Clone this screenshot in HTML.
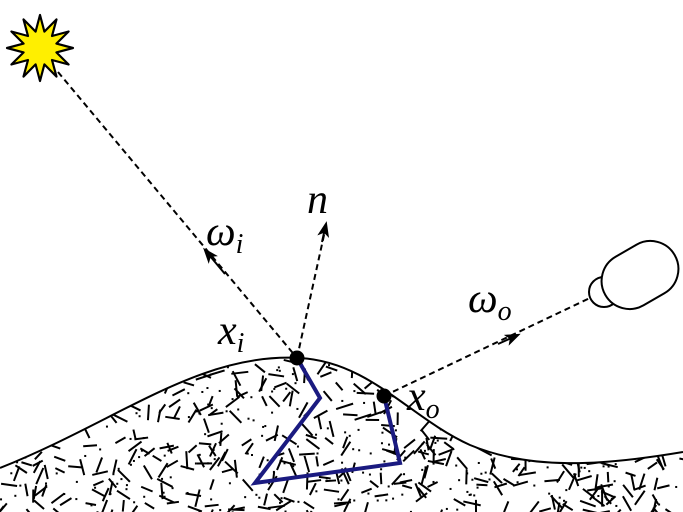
<!DOCTYPE html>
<html><head><style>
html,body{margin:0;padding:0;background:#fff;width:683px;height:512px;overflow:hidden}
svg{display:block}
text{font-family:"Liberation Serif",serif;font-style:italic}
</style></head><body>
<svg id="s" width="683" height="512" viewBox="0 0 683 512" xmlns="http://www.w3.org/2000/svg">
<defs>
<clipPath id="gc"><path d="M0,468 C120,420 200,352 300,358 C370,362 410,418 470,445 C530,470 600,466 683,452 L683,512 L0,512 Z"/></clipPath>
<marker id="ar" markerWidth="16" markerHeight="12" refX="13" refY="6" orient="auto" markerUnits="userSpaceOnUse"><path d="M0,0 L16,6 L0,12 L4,6 Z" fill="#000"/></marker>
</defs>
<g id="tex" clip-path="url(#gc)" stroke="#000" stroke-width="2"></g>
<path d="M0,468 C120,420 200,352 300,358 C370,362 410,418 470,445 C530,470 600,466 683,452" fill="none" stroke="#000" stroke-width="2"/>
<polygon id="star" fill="#ffef00" stroke="#000" stroke-width="2.2" stroke-linejoin="round"/>
<g stroke="#000" stroke-width="2" stroke-dasharray="6,4" fill="none">
<line x1="58" y1="72" x2="297" y2="358"/>
<line x1="297" y1="358" x2="326" y2="226"/>
<line x1="384" y1="396" x2="592" y2="297"/>
</g>
<path d="M225,274 L205,250" stroke="#000" stroke-width="2" marker-end="url(#ar)"/>
<path d="M322,242 L326,224" stroke="#000" stroke-width="2" marker-end="url(#ar)"/>
<path d="M498,344 L518,335" stroke="#000" stroke-width="2" marker-end="url(#ar)"/>
<polyline points="297,358 320,398 255,483 400,463 384,396" fill="none" stroke="#1a1a80" stroke-width="4" stroke-linejoin="miter"/>
<circle cx="297" cy="358" r="7.5" fill="#000"/>
<circle cx="384" cy="396" r="7.5" fill="#000"/>
<circle cx="604" cy="292" r="15" fill="#fff" stroke="#000" stroke-width="2"/>
<rect x="600" y="247" width="80" height="56" rx="28" ry="28" transform="rotate(-30 640 275)" fill="#fff" stroke="#000" stroke-width="2"/>
<text x="206" y="245" font-size="42">ω<tspan font-size="28" dy="8">i</tspan></text>
<text x="307" y="213" font-size="42">n</text>
<text x="218" y="344" font-size="42">x<tspan font-size="28" dy="8">i</tspan></text>
<text x="407" y="410" font-size="42">x<tspan font-size="28" dy="8">o</tspan></text>
<text x="468" y="312" font-size="42">ω<tspan font-size="28" dy="8">o</tspan></text>
</svg>
<script>
var ns="http://www.w3.org/2000/svg";
var st=document.getElementById("star"),p=[];
for(var i=0;i<24;i++){var a=i*Math.PI/12-Math.PI/2,r=i%2?17:33;p.push((40+r*Math.cos(a)).toFixed(1)+","+(48+r*Math.sin(a)).toFixed(1));}
st.setAttribute("points",p.join(" "));
var seed=7;function rnd(){seed=(seed*16807)%2147483647;return seed/2147483647;}
var g=document.getElementById("tex");
for(var k=0;k<900;k++){
 var x=rnd()*683,y=340+rnd()*172;
 if(rnd()<0.35){var c=document.createElementNS(ns,"rect");c.setAttribute("x",x);c.setAttribute("y",y);c.setAttribute("width",2);c.setAttribute("height",2);c.setAttribute("stroke","none");g.appendChild(c);continue;}
 var a=rnd()*Math.PI,l=10+rnd()*8;
 var ln=document.createElementNS(ns,"line");
 ln.setAttribute("x1",x);ln.setAttribute("y1",y);
 ln.setAttribute("x2",x+l*Math.cos(a));ln.setAttribute("y2",y+l*Math.sin(a));
 g.appendChild(ln);
}
</script>
</body></html>
